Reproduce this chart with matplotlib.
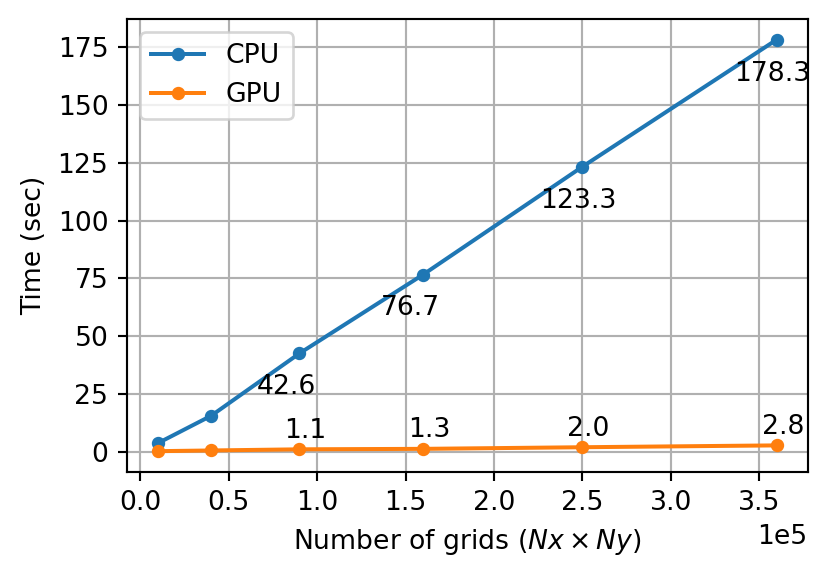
import numpy as np
import matplotlib
matplotlib.use("Agg")
import matplotlib.pyplot as plt

# grid sizes 100x100 ... 600x600
n_grids = [1e4, 4e4, 9e4, 16e4, 25e4, 36e4]
cpu_time = [3.8, 15.6, 42.6, 76.7, 123.3, 178.3]
gpu_time = [0.3, 0.6, 1.1, 1.3, 2.0, 2.8]
labeled = [2, 3, 4, 5]  # points that get a value label

fig, ax = plt.subplots(figsize=(831 / 192, 576 / 192), dpi=192)
fig.subplots_adjust(left=0.153, right=0.972, top=0.967, bottom=0.181)

ax.plot(n_grids, cpu_time, marker='o', markersize=4, label='CPU')
ax.plot(n_grids, gpu_time, marker='o', markersize=4, label='GPU')

for i in labeled:
    ax.text(n_grids[i] - 2.4e4, cpu_time[i] - 17.7, f"{cpu_time[i]:.1f}", fontsize=10)
    ax.text(n_grids[i] - 0.85e4, gpu_time[i] + 5, f"{gpu_time[i]:.1f}", fontsize=10)

ax.ticklabel_format(axis='x', style='sci', scilimits=(0, 0))
ax.set_xlabel(r'Number of grids ($Nx \times Ny$)')
ax.set_ylabel('Time (sec)')
ax.grid(True)
ax.legend(loc='upper left')

fig.savefig('out.png', dpi=192)
